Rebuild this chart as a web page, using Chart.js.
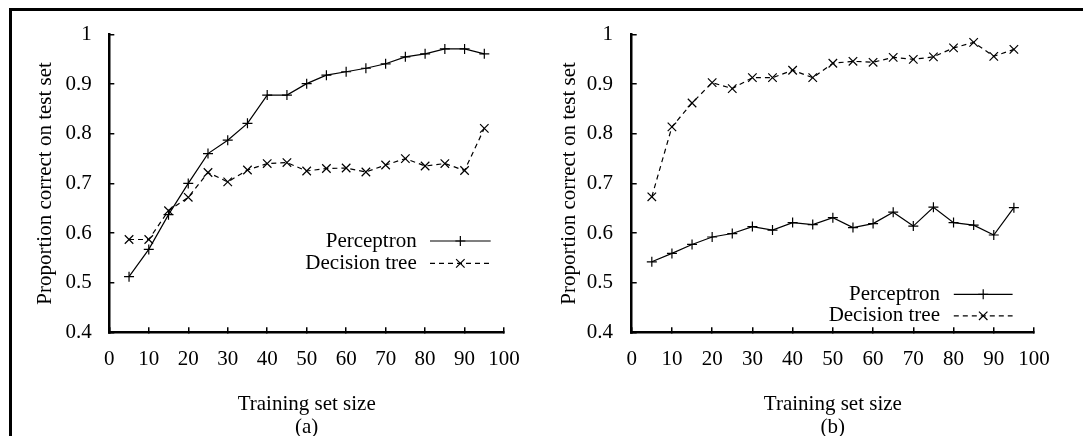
<!DOCTYPE html>
<html><head><meta charset="utf-8">
<script src="https://cdn.jsdelivr.net/npm/chart.js@4.4.1/dist/chart.umd.min.js"></script>
<style>
html,body{margin:0;padding:0;background:#fff;overflow:hidden;width:1083px;height:436px;}
#frame{position:absolute;left:9px;top:8px;width:1200px;height:600px;border-left:3px solid #000;border-top:3px solid #000;}
.wrap{position:absolute;top:0;height:436px;}
#wa{left:0;width:541px;}
#wb{left:541px;width:542px;}
canvas{display:block;}
</style></head><body>
<div id="frame"></div>
<div class="wrap" id="wa"><canvas id="ca" width="541" height="436"></canvas></div>
<div class="wrap" id="wb"><canvas id="cb" width="542" height="436"></canvas></div>
<script>
// ---- data ----
const trainingSizes = [5,10,15,20,25,30,35,40,45,50,55,60,65,70,75,80,85,90,95];
const xTickValues = [0,10,20,30,40,50,60,70,80,90,100];
const yTickValues = [0.4,0.5,0.6,0.7,0.8,0.9,1];
const perceptronA   = [0.512,0.567,0.637,0.700,0.760,0.787,0.821,0.878,0.878,0.901,0.918,0.925,0.932,0.941,0.955,0.961,0.971,0.971,0.961];
const decisionTreeA = [0.587,0.587,0.645,0.672,0.722,0.703,0.727,0.740,0.742,0.725,0.730,0.731,0.723,0.737,0.750,0.735,0.740,0.726,0.811];
const perceptronB   = [0.542,0.559,0.577,0.592,0.599,0.613,0.606,0.621,0.617,0.631,0.611,0.619,0.642,0.614,0.652,0.621,0.616,0.596,0.651];
const decisionTreeB = [0.673,0.814,0.862,0.903,0.891,0.913,0.913,0.928,0.913,0.942,0.946,0.944,0.954,0.950,0.955,0.973,0.984,0.956,0.970];
const seriesNames = ['Perceptron','Decision tree'];
const panelCaptions = ['(a)','(b)'];
const xAxisTitle = 'Training set size';
const yAxisTitle = 'Proportion correct on test set';

const FONT = "'Liberation Serif','Times New Roman',serif";
const FS = 21;
Chart.defaults.font.family = FONT;
Chart.defaults.color = '#000';

const lineLegend = {
  id: 'lineLegend',
  afterDatasetsDraw(chart, args, opts) {
    const ctx = chart.ctx;
    chart.data.datasets.forEach((ds, i) => {
      const y = opts.rowY[i];
      ctx.save();
      ctx.font = FS + 'px ' + FONT;
      ctx.fillStyle = '#000';
      ctx.textAlign = 'right';
      ctx.textBaseline = 'middle';
      ctx.fillText(ds.label, opts.textRight, y);
      ctx.beginPath();
      ctx.setLineDash(ds.borderDash || []);
      ctx.lineWidth = ds.borderWidth;
      ctx.strokeStyle = ds.borderColor;
      ctx.moveTo(opts.lineStart, y);
      ctx.lineTo(opts.lineEnd, y);
      ctx.stroke();
      ctx.setLineDash([]);
      ctx.lineWidth = ds.pointBorderWidth;
      ctx.strokeStyle = ds.pointBorderColor;
      ctx.fillStyle = ds.pointBorderColor;
      Chart.helpers.drawPoint(ctx, {pointStyle: ds.pointStyle, radius: ds.pointRadius, borderWidth: ds.pointBorderWidth, rotation: 0}, (opts.lineStart + opts.lineEnd) / 2, y);
      ctx.restore();
    });
  }
};

function makeConfig(perc, dtree, caption, L) {
  const tickFont = {family: FONT, size: FS, lineHeight: 1};
  return {
    type: 'line',
    data: {
      datasets: [
        {label: seriesNames[0], data: trainingSizes.map((x, i) => ({x, y: perc[i]})),
         borderColor: '#000', backgroundColor: '#000', borderWidth: 1.2, tension: 0, fill: false,
         pointStyle: 'cross', pointRadius: 5, pointBorderWidth: 1.2, pointBorderColor: '#000', pointBackgroundColor: '#000'},
        {label: seriesNames[1], data: trainingSizes.map((x, i) => ({x, y: dtree[i]})),
         borderColor: '#000', backgroundColor: '#000', borderWidth: 1.2, borderDash: [5, 4], tension: 0, fill: false,
         pointStyle: 'crossRot', pointRadius: 6, pointBorderWidth: 1.2, pointBorderColor: '#000', pointBackgroundColor: '#000'}
      ]
    },
    options: {
      responsive: false, animation: false, devicePixelRatio: 1,
      layout: {padding: {top: 34.5, right: L.padRight, left: 0, bottom: 0}},
      plugins: {
        legend: {display: false},
        tooltip: {enabled: false},
        title: {display: true, text: caption, position: 'bottom', fullSize: false, color: '#000',
                font: {family: FONT, size: FS, lineHeight: 1, weight: 'normal'}, padding: {top: 0, bottom: -2}},
        lineLegend: L.legend
      },
      scales: {
        x: {
          type: 'linear', min: 0, max: 100,
          afterBuildTicks: s => { s.ticks = xTickValues.map(v => ({value: v})); },
          afterFit: s => { s.height = L.xAxisHeight; },
          border: {display: true, color: '#000', width: 2.5},
          grid: {drawOnChartArea: false, drawTicks: true, tickLength: -5, color: '#000', lineWidth: 1.5},
          ticks: {color: '#000', font: tickFont, padding: 21.2, maxRotation: 0, autoSkip: false},
          title: {display: true, text: xAxisTitle, color: '#000', font: {family: FONT, size: FS, lineHeight: 1}, padding: {top: 0, bottom: 2}}
        },
        y: {
          type: 'linear', min: 0.4, max: 1,
          afterBuildTicks: s => { s.ticks = yTickValues.map(v => ({value: v})); },
          afterFit: s => { s.width = L.yAxisWidth; },
          border: {display: true, color: '#000', width: 2.5},
          grid: {drawOnChartArea: false, drawTicks: true, tickLength: -5, color: '#000', lineWidth: 1.5},
          ticks: {color: '#000', font: tickFont, padding: L.yTickPad, callback: v => String(+Number(v).toFixed(1))},
          title: {display: true, text: yAxisTitle, color: '#000', font: {family: FONT, size: FS, lineHeight: 1}, padding: {top: L.yTitlePad, bottom: 0}}
        }
      }
    },
    plugins: [lineLegend]
  };
}

new Chart(document.getElementById('ca'), makeConfig(perceptronA, decisionTreeA, panelCaptions[0], {
  padRight: 30, xAxisHeight: 84.7, yAxisWidth: 109.3, yTickPad: 22.6, yTitlePad: 35,
  legend: {textRight: 416.7, rowY: [241, 263.4], lineStart: 430, lineEnd: 490.7}
}));
new Chart(document.getElementById('cb'), makeConfig(perceptronB, decisionTreeB, panelCaptions[1], {
  padRight: 49, xAxisHeight: 84.7, yAxisWidth: 90.7, yTickPad: 23.7, yTitlePad: 17.5,
  legend: {textRight: 399, rowY: [294.3, 315.8], lineStart: 412.8, lineEnd: 471.6}
}));
</script>
</body></html>
